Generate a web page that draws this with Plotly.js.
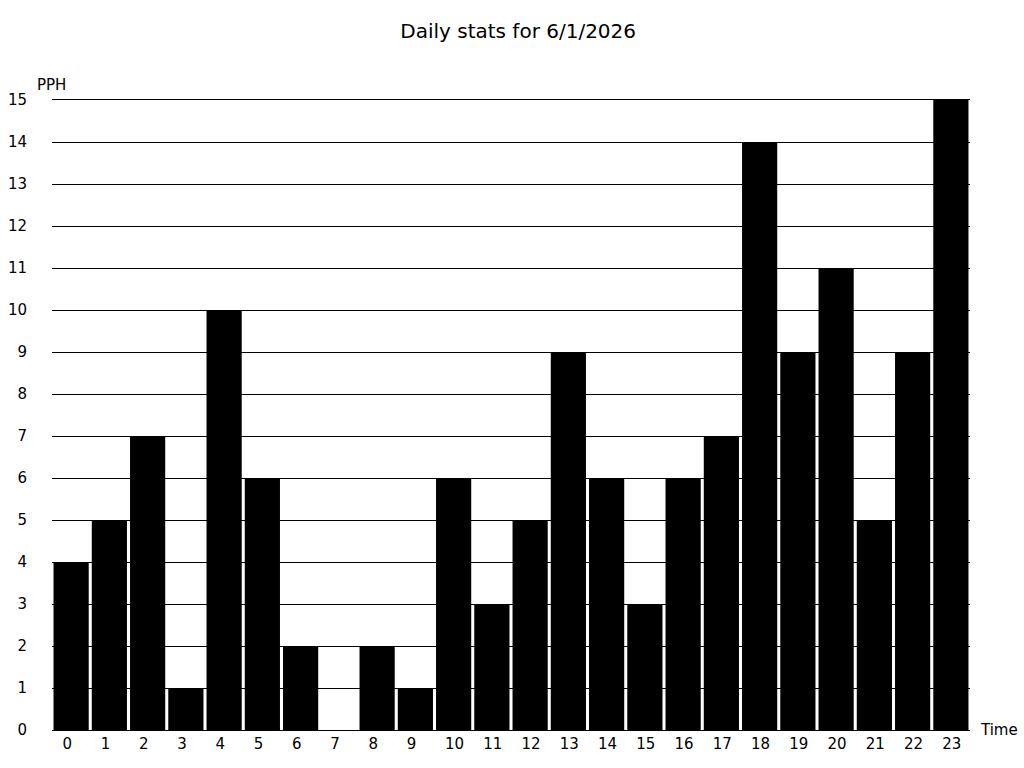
<!DOCTYPE html>
<html>
<head>
<meta charset="utf-8">
<script src="https://cdn.plot.ly/plotly-3.0.1.min.js"></script>
<style>html,body{margin:0;padding:0;background:#fff;}#chart{width:1024px;height:768px;}</style>
</head>
<body>
<div id="chart"></div>
<script>
const hours = [0,1,2,3,4,5,6,7,8,9,10,11,12,13,14,15,16,17,18,19,20,21,22,23];
const pph = [4,5,7,1,10,6,2,0,2,1,6,3,5,9,6,3,6,7,14,9,11,5,9,15];
const titleText = 'Daily stats for 6/1/2026';
const yLabel = 'PPH';
const xLabel = 'Time';

const font = 'DejaVu Sans, sans-serif';
Plotly.newPlot('chart', [{
  type: 'bar',
  x: hours,
  y: pph,
  marker: {color: '#000000', line: {width: 0}},
  hoverinfo: 'x+y'
}], {
  width: 1024, height: 768,
  margin: {l: 52, r: 54, t: 100, b: 38, pad: 0},
  paper_bgcolor: '#fff', plot_bgcolor: '#fff',
  bargap: 0.08,
  showlegend: false,
  font: {family: font, color: '#000', size: 15},
  title: {text: titleText, x: 0.506, xanchor: 'center', y: 0.96, yanchor: 'middle', font: {family: font, size: 20, color: '#000'}},
  xaxis: {
    range: [-0.5, 23.5], tickmode: 'array', tickvals: hours.map(h => h - 0.24), ticktext: hours.map(String),
    ticklabelposition: 'outside right',
    showgrid: false, zeroline: false, showline: true, linecolor: '#000', linewidth: 1, mirror: true, ticks: '',
    tickfont: {family: font, size: 15, color: '#000'}
  },
  yaxis: {
    range: [0, 15], dtick: 1, tick0: 0, showgrid: true, gridcolor: '#000', gridwidth: 1,
    zeroline: true, zerolinecolor: '#000', zerolinewidth: 1, showline: false, ticks: '',
    ticklabelstandoff: 24,
    tickfont: {family: font, size: 15, color: '#000'}
  },
  annotations: [
    {text: yLabel, xref: 'paper', yref: 'paper', x: -0.0005, y: 1.0, xanchor: 'center', yanchor: 'bottom', yshift: 4, showarrow: false, font: {family: font, size: 15, color: '#000'}},
    {text: xLabel, xref: 'paper', yref: 'paper', x: 1.0, y: 0, xanchor: 'left', yanchor: 'middle', xshift: 8, showarrow: false, font: {family: font, size: 15, color: '#000'}}
  ]
}, {displayModeBar: false, staticPlot: true});
</script>
</body>
</html>
